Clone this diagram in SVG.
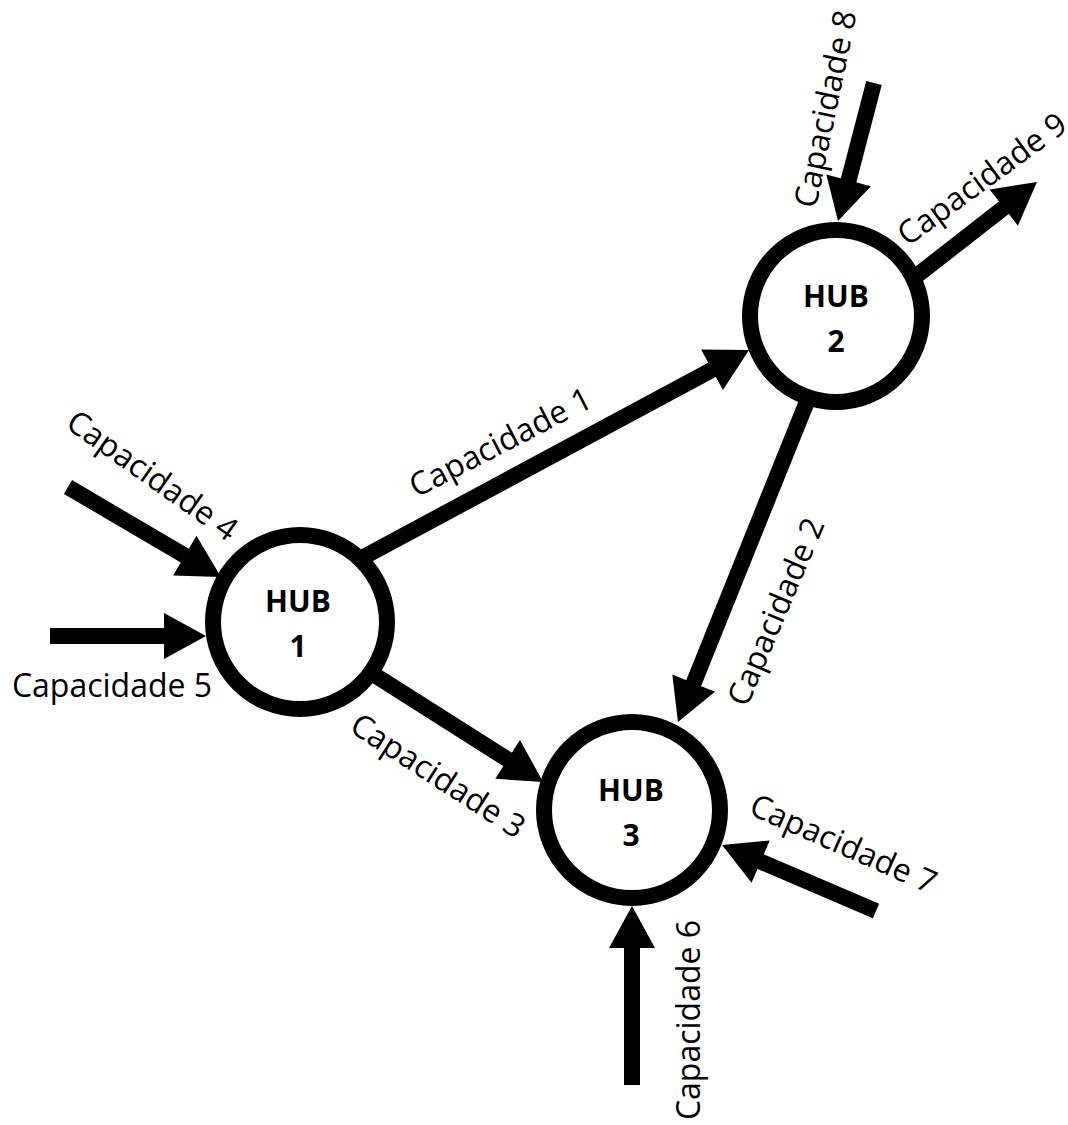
<svg xmlns="http://www.w3.org/2000/svg" width="1068" height="1125" viewBox="0 0 1068 1125">
<style>
.c{stroke:#000;stroke-width:16;fill:none;marker-end:url(#ah)}
.hub{fill:#fff;stroke:#000;stroke-width:16}
.hl{font-family:"Open Sans","Noto Sans",sans-serif;font-weight:700;font-size:30px;text-anchor:middle;fill:#000}
.lb{font-family:"Open Sans","Noto Sans",sans-serif;font-size:32px;text-anchor:middle;fill:#000}
</style>
<defs>
<marker id="ah" markerUnits="userSpaceOnUse" markerWidth="44" markerHeight="48" refX="2" refY="23" orient="auto" overflow="visible">
<path d="M0,0 L42,23 L0,46 z" fill="#000"/>
</marker>
</defs>
<rect width="1068" height="1125" fill="#fff"/>
<g id="connectors">
<line class="c" x1="358" y1="560" x2="713.8" y2="368.9"/>
<line class="c" x1="808" y1="399" x2="692.9" y2="684.9"/>
<line class="c" x1="373" y1="674" x2="509.3" y2="760.5"/>
<line class="c" x1="68" y1="487" x2="186.5" y2="556.7"/>
<line class="c" x1="50" y1="636" x2="166" y2="636"/>
<line class="c" x1="632" y1="1085" x2="632" y2="946"/>
<line class="c" x1="876" y1="911" x2="758.8" y2="860.8"/>
<line class="c" x1="874" y1="83" x2="848.1" y2="182.3"/>
<line class="c" x1="915" y1="277" x2="1005.4" y2="206.5"/>
</g>
<g id="labels">
<text class="lb" transform="translate(505.5,452) rotate(-27.3)">Capacidade 1</text>
<text class="lb" transform="translate(786,616) rotate(-67)">Capacidade 2</text>
<text class="lb" transform="translate(432,785) rotate(32.9)">Capacidade 3</text>
<text class="lb" transform="translate(146,484.5) rotate(35.2)">Capacidade 4</text>
<text class="lb" x="112" y="697">Capacidade 5</text>
<text class="lb" transform="translate(700,1020) rotate(-90)">Capacidade 6</text>
<text class="lb" transform="translate(839,854) rotate(23.8)">Capacidade 7</text>
<text class="lb" transform="translate(836.3,111.2) rotate(-78.2)">Capacidade 8</text>
<text class="lb" transform="translate(988.5,188) rotate(-36.1)">Capacidade 9</text>
</g>
<g id="hub1">
<circle class="hub" cx="300" cy="622" r="87"/>
<text class="hl" x="298" y="612">HUB</text>
<text class="hl" x="298" y="657">1</text>
</g>
<g id="hub2">
<circle class="hub" cx="836" cy="316" r="86"/>
<text class="hl" x="836" y="307">HUB</text>
<text class="hl" x="836" y="352">2</text>
</g>
<g id="hub3">
<circle class="hub" cx="632" cy="810" r="88"/>
<text class="hl" x="631" y="801">HUB</text>
<text class="hl" x="631" y="846">3</text>
</g>
</svg>
